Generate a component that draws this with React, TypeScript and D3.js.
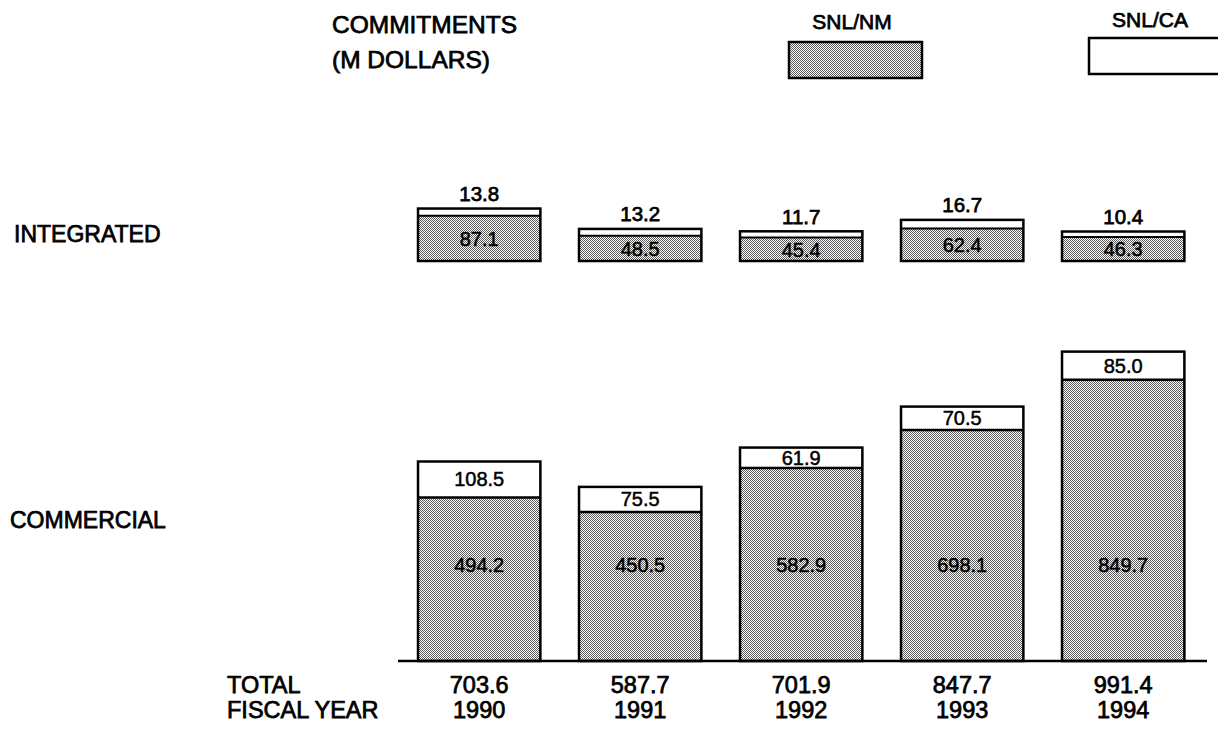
import React from "react";
import * as d3 from "d3";

const years = ["1990", "1991", "1992", "1993", "1994"];
const integratedNM = [87.1, 48.5, 45.4, 62.4, 46.3];
const integratedCA = [13.8, 13.2, 11.7, 16.7, 10.4];
const commercialNM = [494.2, 450.5, 582.9, 698.1, 849.7];
const commercialCA = [108.5, 75.5, 61.9, 70.5, 85.0];
const totals = [703.6, 587.7, 701.9, 847.7, 991.4];
const seriesNames = ["SNL/NM", "SNL/CA"];
const rowLabels = ["INTEGRATED", "COMMERCIAL"];

const W = 1218;
const H = 733;
const FONT = "'Liberation Sans', Arial, Helvetica, sans-serif";

export default function App() {
  const x = d3
    .scaleBand<string>()
    .domain(years)
    .range([398.7, 1203.7])
    .paddingInner(0.24)
    .paddingOuter(0.12);
  const bw = x.bandwidth();

  const yCom = d3.scaleLinear().domain([0, 1000]).range([661, 661 - 331]);
  const yInt = d3.scaleLinear().domain([0, 100]).range([261, 261 - 52]);

  const textProps = {
    fontFamily: FONT,
    fill: "#000",
    stroke: "#000",
    strokeWidth: 0.75,
  } as const;
  const smallText = { ...textProps, strokeWidth: 0.5 } as const;

  return (
    <svg
      width={W}
      height={H}
      style={{ position: "fixed", left: 0, top: 0, background: "#fff" }}
    >
      <defs>
        <pattern id="stip" width="2" height="2" patternUnits="userSpaceOnUse">
          <rect width="2" height="2" fill="#fff" />
          <rect x="0" y="0" width="1" height="1" fill="#5c5c5c" />
          <rect x="1" y="1" width="1" height="1" fill="#5c5c5c" />
        </pattern>
      </defs>
      <rect width={W} height={H} fill="#fff" />

      {/* Title */}
      <text x={332} y={33} fontSize={24.5} {...textProps}>
        COMMITMENTS
      </text>
      <text x={332} y={68} fontSize={24.5} {...textProps}>
        (M DOLLARS)
      </text>

      {/* Legend */}
      <text x={852} y={29} fontSize={21} textAnchor="middle" {...textProps}>
        {seriesNames[0]}
      </text>
      <rect x={789} y={42} width={133} height={36} fill="url(#stip)" stroke="#000" strokeWidth={2.5} />
      <text x={1150} y={27} fontSize={21} textAnchor="middle" {...textProps}>
        {seriesNames[1]}
      </text>
      <rect x={1089} y={38} width={140} height={36} fill="#fff" stroke="#000" strokeWidth={2.5} />

      {/* Row labels */}
      <text x={14} y={242} fontSize={23} {...textProps}>
        {rowLabels[0]}
      </text>
      <text x={10} y={528} fontSize={23} {...textProps}>
        {rowLabels[1]}
      </text>

      {/* Integrated bars */}
      {years.map((yr, i) => {
        const x0 = x(yr)!;
        const nmTop = yInt(integratedNM[i]);
        const caTop = yInt(integratedNM[i] + integratedCA[i]);
        const base = yInt(0);
        const cx = x0 + bw / 2;
        return (
          <g key={"int" + yr}>
            <rect x={x0} y={nmTop} width={bw} height={base - nmTop} fill="url(#stip)" />
            <rect x={x0} y={caTop} width={bw} height={nmTop - caTop} fill="#fff" />
            <line x1={x0} x2={x0 + bw} y1={nmTop} y2={nmTop} stroke="#000" strokeWidth={2} />
            <rect x={x0} y={caTop} width={bw} height={base - caTop} fill="none" stroke="#000" strokeWidth={2.5} />
            <text x={cx} y={caTop - 7.5} fontSize={20.5} textAnchor="middle" {...textProps}>
              {integratedCA[i].toFixed(1)}
            </text>
            <text x={cx} y={(nmTop + base) / 2 + 7.5} fontSize={20} textAnchor="middle" {...smallText}>
              {integratedNM[i].toFixed(1)}
            </text>
          </g>
        );
      })}

      {/* Commercial bars */}
      {years.map((yr, i) => {
        const x0 = x(yr)!;
        const nmTop = yCom(commercialNM[i]);
        const caTop = yCom(commercialNM[i] + commercialCA[i]);
        const base = yCom(0);
        const cx = x0 + bw / 2;
        return (
          <g key={"com" + yr}>
            <rect x={x0} y={nmTop} width={bw} height={base - nmTop} fill="url(#stip)" />
            <rect x={x0} y={caTop} width={bw} height={nmTop - caTop} fill="#fff" />
            <line x1={x0} x2={x0 + bw} y1={nmTop} y2={nmTop} stroke="#000" strokeWidth={2.5} />
            <rect x={x0} y={caTop} width={bw} height={base - caTop} fill="none" stroke="#000" strokeWidth={2.5} />
            <text x={cx} y={(caTop + nmTop) / 2 + 7} fontSize={20} textAnchor="middle" {...smallText}>
              {commercialCA[i].toFixed(1)}
            </text>
            <text x={cx} y={572} fontSize={20} textAnchor="middle" {...smallText}>
              {commercialNM[i].toFixed(1)}
            </text>
          </g>
        );
      })}

      {/* Baseline */}
      <line x1={398} x2={1207} y1={yCom(0)} y2={yCom(0)} stroke="#000" strokeWidth={2.5} />

      {/* Totals and years */}
      <text x={227} y={693} fontSize={23.5} {...textProps}>
        TOTAL
      </text>
      <text x={227} y={718} fontSize={23.5} {...textProps}>
        FISCAL YEAR
      </text>
      {years.map((yr, i) => (
        <g key={"lbl" + yr}>
          <text x={x(yr)! + bw / 2} y={693} fontSize={23.5} textAnchor="middle" {...textProps}>
            {totals[i].toFixed(1)}
          </text>
          <text x={x(yr)! + bw / 2} y={718} fontSize={23.5} textAnchor="middle" {...textProps}>
            {yr}
          </text>
        </g>
      ))}
    </svg>
  );
}
